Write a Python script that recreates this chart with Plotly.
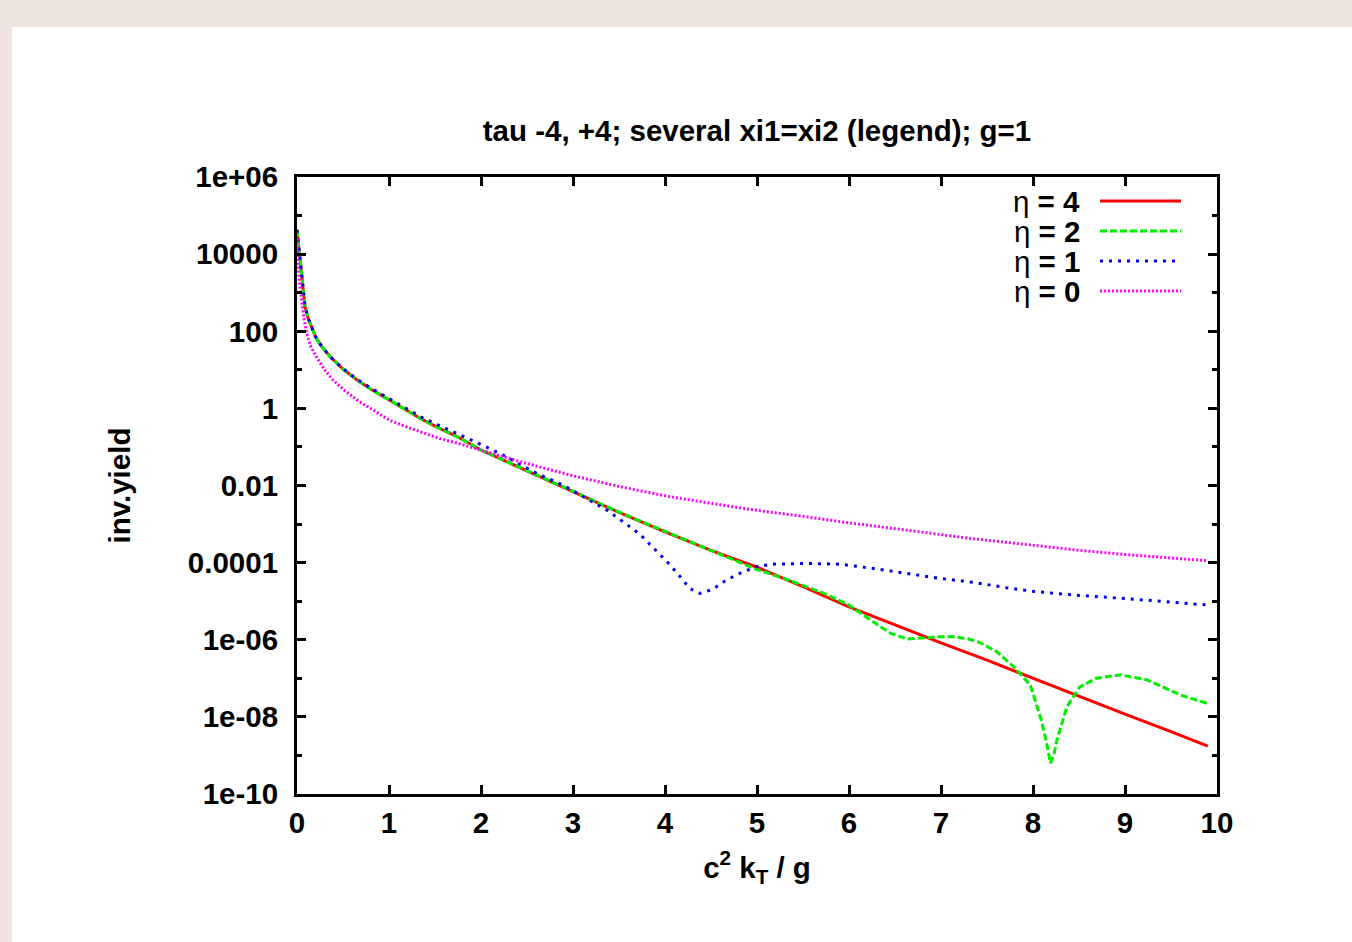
import plotly.graph_objects as go

FONT = "Liberation Sans, Arial, Helvetica, sans-serif"

# ---------------- data (y stored as log10) -------------
x_eta4 = [0, 0.02, 0.04, 0.06, 0.087, 0.12, 0.16, 0.2, 0.27, 0.36, 0.5, 0.65, 0.8,
          1.0, 1.2, 1.37, 1.55, 1.74, 2.0, 2.5, 3.0, 3.5, 4.0, 4.5, 5.0, 5.5, 6.0,
          6.5, 7.0, 7.5, 8.0, 8.5, 9.0, 9.5, 9.9]
log_eta4 = [4.63, 4.17, 3.71, 3.26, 2.64, 2.35, 2.08, 1.86, 1.60, 1.34, 1.02, 0.74, 0.50,
            0.22, -0.06, -0.30, -0.52, -0.73, -1.08, -1.62, -2.17, -2.70, -3.20, -3.68,
            -4.12, -4.62, -5.15, -5.62, -6.08, -6.53, -7.00, -7.48, -7.93, -8.38, -8.76]

x_eta2 = [0, 0.02, 0.04, 0.06, 0.087, 0.12, 0.16, 0.2, 0.27, 0.36, 0.5, 0.65, 0.8,
          1.0, 1.2, 1.37, 1.55, 1.74, 2.0, 2.5, 3.0, 3.5, 4.0, 4.5, 4.82, 5.0, 5.18,
          5.4, 5.72, 6.0, 6.26, 6.45, 6.63, 6.81, 7.0, 7.13, 7.3, 7.42, 7.6, 7.79,
          7.97, 8.09, 8.15, 8.19, 8.23, 8.26, 8.32, 8.37, 8.51, 8.69, 8.95, 9.24,
          9.6, 9.89]
log_eta2 = [4.63, 4.17, 3.71, 3.26, 2.64, 2.35, 2.08, 1.86, 1.60, 1.34, 1.02, 0.74, 0.50,
            0.22, -0.06, -0.30, -0.52, -0.73, -1.08, -1.62, -2.17, -2.69, -3.19, -3.69,
            -4.02, -4.18, -4.32, -4.50, -4.79, -5.10, -5.53, -5.83, -5.98, -5.95, -5.92,
            -5.92, -5.98, -6.07, -6.30, -6.70, -7.17, -8.08, -8.70, -9.20, -8.95, -8.60,
            -8.10, -7.73, -7.22, -7.00, -6.91, -7.04, -7.43, -7.65]

x_eta1 = [0, 0.02, 0.04, 0.06, 0.087, 0.12, 0.16, 0.2, 0.27, 0.36, 0.5, 0.65, 0.8,
          1.0, 1.2, 1.37, 1.55, 1.74, 1.93, 2.24, 2.6, 2.89, 3.13, 3.37, 3.51, 3.73,
          3.85, 4.04, 4.16, 4.27, 4.38, 4.51, 4.67, 4.82, 5.0, 5.18, 5.54, 5.9, 6.26,
          6.63, 6.99, 7.35, 7.71, 8.02, 8.5, 9.0, 9.5, 9.9]
log_eta1 = [4.63, 4.17, 3.71, 3.26, 2.64, 2.35, 2.08, 1.86, 1.60, 1.34, 1.03, 0.76, 0.53,
            0.26, -0.02, -0.25, -0.45, -0.65, -0.86, -1.21, -1.68, -1.99, -2.32, -2.64,
            -2.88, -3.27, -3.56, -4.02, -4.35, -4.67, -4.80, -4.70, -4.45, -4.27, -4.10,
            -4.04, -4.02, -4.04, -4.15, -4.28, -4.41, -4.51, -4.65, -4.75, -4.85, -4.93,
            -5.02, -5.10]

x_eta0 = [0, 0.01, 0.03, 0.05, 0.075, 0.105, 0.15, 0.21, 0.3, 0.39, 0.5, 0.65, 0.8,
          1.0, 1.2, 1.37, 1.55, 1.74, 2.0, 2.42, 2.97, 3.51, 4.05, 4.5, 4.92, 5.5, 6.0,
          6.5, 7.0, 7.35, 8.08, 8.5, 9.0, 9.5, 9.9]
log_eta0 = [4.40, 3.70, 3.20, 2.81, 2.35, 1.95, 1.60, 1.34, 1.00, 0.74, 0.50, 0.22, 0.00,
            -0.30, -0.49, -0.64, -0.78, -0.90, -1.08, -1.38, -1.73, -2.03, -2.29, -2.47,
            -2.62, -2.80, -2.97, -3.12, -3.27, -3.38, -3.57, -3.68, -3.79, -3.88, -3.95]

series_names = ["η = 4", "η = 2", "η = 1", "η = 0"]
series_x = [x_eta4, x_eta2, x_eta1, x_eta0]
series_log = [log_eta4, log_eta2, log_eta1, log_eta0]

x_ticks = [0, 1, 2, 3, 4, 5, 6, 7, 8, 9, 10]
y_major_vals = [1e6, 1e4, 1e2, 1, 1e-2, 1e-4, 1e-6, 1e-8, 1e-10]
y_major_text = ["1e+06", "10000", "100", "1", "0.01", "0.0001", "1e-06", "1e-08", "1e-10"]
y_minor_vals = [1e5, 1e3, 1e1, 1e-1, 1e-3, 1e-5, 1e-7, 1e-9]

title_text = "tau -4, +4; several xi1=xi2 (legend); g=1"
x_title = "c<sup>2</sup> k<sub>T</sub> / g"
y_title = "inv.yield"

# ---------------- styles ----------------
colors = ["#ff0000", "#00ee00", "#0000ee", "#ff00ff"]
dashes = ["solid", "7px,3px", "3px,6px", "2px,2px"]
widths = [3, 3, 3, 3]
FS = 29.5

W, H = 1352, 942
L, R, T, B = 297, 135, 177, 148
pw, ph = W - L - R, H - T - B

fig = go.Figure()
for name, xs, ls, c, d, w in zip(series_names, series_x, series_log, colors, dashes, widths):
    fig.add_trace(go.Scatter(x=xs, y=[10 ** v for v in ls], mode="lines", name=name,
                             line=dict(color=c, dash=d, width=w), showlegend=False))

def px_to_paper_x(px):
    return (px - L) / pw

def py_to_paper_y(py):
    return (H - B - py) / ph

shapes = [
    dict(type="rect", xref="paper", yref="paper", layer="below",
         x0=px_to_paper_x(12), x1=px_to_paper_x(W + 5),
         y0=py_to_paper_y(H + 5), y1=py_to_paper_y(27),
         fillcolor="white", line=dict(width=0)),
]
annotations = []
rows = [201, 231, 261, 291]
for name, c, d, w, ry in zip(series_names, colors, dashes, widths, rows):
    eta, rest = name.split(" ", 1)
    annotations.append(dict(xref="paper", yref="paper", x=px_to_paper_x(1082),
                            y=py_to_paper_y(ry), xanchor="right", yanchor="middle",
                            text=eta + " <b>" + rest + "</b>", showarrow=False,
                            font=dict(family=FONT, size=FS, color="black")))
    shapes.append(dict(type="line", xref="paper", yref="paper",
                       x0=px_to_paper_x(1100), x1=px_to_paper_x(1181),
                       y0=py_to_paper_y(ry), y1=py_to_paper_y(ry),
                       line=dict(color=c, dash=d, width=w)))

axis_common = dict(showline=True, linewidth=3, linecolor="black", mirror="allticks",
                   ticks="inside", ticklen=9, tickwidth=2.5, tickcolor="black",
                   showgrid=False, zeroline=False,
                   tickfont=dict(family=FONT, size=FS, color="black", weight="bold"))

fig.update_layout(
    width=W, height=H,
    showlegend=False,
    margin=dict(l=L, r=R, t=T, b=B, autoexpand=False),
    paper_bgcolor="#efe4df", plot_bgcolor="white",
    font=dict(family=FONT, size=FS, color="black"),
    title=dict(text=title_text, x=0.5, xref="paper", xanchor="center",
               y=1 - 131 / H, yref="container", yanchor="middle",
               font=dict(family=FONT, size=FS, color="black", weight="bold")),
    xaxis=dict(range=[0, 10], tickmode="array", tickvals=x_ticks,
               ticktext=[str(v) for v in x_ticks], ticklabelstandoff=1,
               title=dict(text=x_title, standoff=19,
                          font=dict(family=FONT, size=FS, color="black", weight="bold")),
               **axis_common),
    yaxis=dict(type="log", range=[-10, 6], tickmode="array", tickvals=y_major_vals,
               ticktext=y_major_text, ticklabelstandoff=10,
               minor=dict(tickmode="array", tickvals=y_minor_vals, ticks="inside",
                          ticklen=5, tickwidth=2.5, tickcolor="black"),
               title=dict(text=y_title, standoff=49,
                          font=dict(family=FONT, size=FS, color="black", weight="bold")),
               **axis_common),
    shapes=shapes,
    annotations=annotations,
)

fig.write_html("out.html", config={"displayModeBar": False},
               post_script="document.body.style.margin='0px';document.body.style.padding='0px';")
